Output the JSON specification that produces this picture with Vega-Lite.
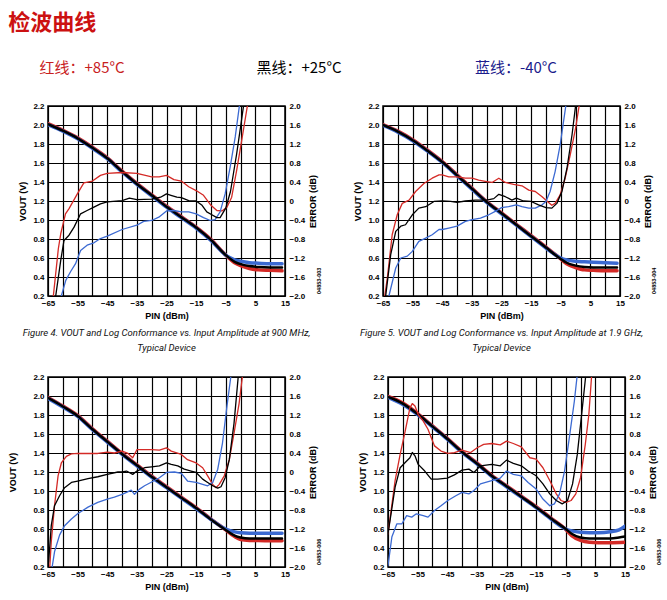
{
  "$schema": "https://vega.github.io/schema/vega-lite/v6.json",
  "background": "white",
  "padding": {"left": 8, "top": 12, "right": 2, "bottom": 2},
  "title": {"text": "检波曲线", "anchor": "start", "font": "Noto Sans CJK SC", "fontSize": 22, "fontWeight": "bold", "color": "#cc1111", "offset": 18},
  "config": {
    "view": {"stroke": "#000", "strokeWidth": 1.5},
    "axis": {"labelFont": "Liberation Sans", "labelFontWeight": "bold", "labelFontSize": 8, "labelColor": "#000", "titleFont": "Liberation Sans", "titleFontWeight": "bold", "titleFontSize": 9, "titleColor": "#000", "ticks": false, "tickSize": 0, "domain": false, "gridColor": "#000", "gridWidth": 1.2, "gridOpacity": 1, "labelPadding": 4, "tickCount": 50},
    "line": {"strokeJoin": "round", "strokeCap": "round"}
  },
  "datasets": {
    "legend": [{"label": "红线：+85°C"}, {"label": "黑线：+25°C"}, {"label": "蓝线：-40°C"}],
    "codes": [{"p": 1, "code": "04853-003"}, {"p": 2, "code": "04853-004"}, {"p": 3, "code": "04853-006"}, {"p": 4, "code": "04853-006"}],
    "curves": [
      {"p":1,"t":"+85°C","k":"V","x":-65,"y":2.015},{"p":1,"t":"+85°C","k":"V","x":-60,"y":1.945},{"p":1,"t":"+85°C","k":"V","x":-55,"y":1.865},{"p":1,"t":"+85°C","k":"V","x":-50,"y":1.765},{"p":1,"t":"+85°C","k":"V","x":-45,"y":1.655},{"p":1,"t":"+85°C","k":"V","x":-40,"y":1.515},{"p":1,"t":"+85°C","k":"V","x":-35,"y":1.385},{"p":1,"t":"+85°C","k":"V","x":-30,"y":1.265},{"p":1,"t":"+85°C","k":"V","x":-25,"y":1.145},{"p":1,"t":"+85°C","k":"V","x":-20,"y":1.035},{"p":1,"t":"+85°C","k":"V","x":-15,"y":0.925},{"p":1,"t":"+85°C","k":"V","x":-10,"y":0.795},{"p":1,"t":"+85°C","k":"V","x":-5,"y":0.63},{"p":1,"t":"+85°C","k":"V","x":-2,"y":0.55},{"p":1,"t":"+85°C","k":"V","x":0,"y":0.52},{"p":1,"t":"+85°C","k":"V","x":3,"y":0.49},{"p":1,"t":"+85°C","k":"V","x":6,"y":0.475},{"p":1,"t":"+85°C","k":"V","x":10,"y":0.47},{"p":1,"t":"+85°C","k":"V","x":14,"y":0.465},
      {"p":1,"t":"-40°C","k":"V","x":-65,"y":2.005},{"p":1,"t":"-40°C","k":"V","x":-60,"y":1.935},{"p":1,"t":"-40°C","k":"V","x":-55,"y":1.855},{"p":1,"t":"-40°C","k":"V","x":-50,"y":1.755},{"p":1,"t":"-40°C","k":"V","x":-45,"y":1.645},{"p":1,"t":"-40°C","k":"V","x":-40,"y":1.505},{"p":1,"t":"-40°C","k":"V","x":-35,"y":1.375},{"p":1,"t":"-40°C","k":"V","x":-30,"y":1.255},{"p":1,"t":"-40°C","k":"V","x":-25,"y":1.135},{"p":1,"t":"-40°C","k":"V","x":-20,"y":1.025},{"p":1,"t":"-40°C","k":"V","x":-15,"y":0.915},{"p":1,"t":"-40°C","k":"V","x":-10,"y":0.785},{"p":1,"t":"-40°C","k":"V","x":-5,"y":0.63},{"p":1,"t":"-40°C","k":"V","x":-2,"y":0.58},{"p":1,"t":"-40°C","k":"V","x":0,"y":0.565},{"p":1,"t":"-40°C","k":"V","x":3,"y":0.55},{"p":1,"t":"-40°C","k":"V","x":6,"y":0.545},{"p":1,"t":"-40°C","k":"V","x":10,"y":0.54},{"p":1,"t":"-40°C","k":"V","x":14,"y":0.54},
      {"p":1,"t":"+25°C","k":"V","x":-65,"y":2.01},{"p":1,"t":"+25°C","k":"V","x":-60,"y":1.94},{"p":1,"t":"+25°C","k":"V","x":-55,"y":1.86},{"p":1,"t":"+25°C","k":"V","x":-50,"y":1.76},{"p":1,"t":"+25°C","k":"V","x":-45,"y":1.65},{"p":1,"t":"+25°C","k":"V","x":-40,"y":1.51},{"p":1,"t":"+25°C","k":"V","x":-35,"y":1.38},{"p":1,"t":"+25°C","k":"V","x":-30,"y":1.26},{"p":1,"t":"+25°C","k":"V","x":-25,"y":1.14},{"p":1,"t":"+25°C","k":"V","x":-20,"y":1.03},{"p":1,"t":"+25°C","k":"V","x":-15,"y":0.92},{"p":1,"t":"+25°C","k":"V","x":-10,"y":0.79},{"p":1,"t":"+25°C","k":"V","x":-5,"y":0.63},{"p":1,"t":"+25°C","k":"V","x":-2,"y":0.56},{"p":1,"t":"+25°C","k":"V","x":0,"y":0.535},{"p":1,"t":"+25°C","k":"V","x":3,"y":0.515},{"p":1,"t":"+25°C","k":"V","x":6,"y":0.505},{"p":1,"t":"+25°C","k":"V","x":10,"y":0.5},{"p":1,"t":"+25°C","k":"V","x":14,"y":0.5},
      {"p":1,"t":"+85°C","k":"E","x":-63.2,"y":-2.0},{"p":1,"t":"+85°C","k":"E","x":-61.5,"y":-1.0},{"p":1,"t":"+85°C","k":"E","x":-60.7,"y":-0.69},{"p":1,"t":"+85°C","k":"E","x":-59.1,"y":-0.27},{"p":1,"t":"+85°C","k":"E","x":-57.9,"y":-0.16},{"p":1,"t":"+85°C","k":"E","x":-55.1,"y":0.15},{"p":1,"t":"+85°C","k":"E","x":-52.9,"y":0.38},{"p":1,"t":"+85°C","k":"E","x":-50,"y":0.42},{"p":1,"t":"+85°C","k":"E","x":-47.3,"y":0.54},{"p":1,"t":"+85°C","k":"E","x":-45,"y":0.58},{"p":1,"t":"+85°C","k":"E","x":-40,"y":0.6},{"p":1,"t":"+85°C","k":"E","x":-35,"y":0.58},{"p":1,"t":"+85°C","k":"E","x":-30,"y":0.51},{"p":1,"t":"+85°C","k":"E","x":-27.5,"y":0.51},{"p":1,"t":"+85°C","k":"E","x":-25,"y":0.54},{"p":1,"t":"+85°C","k":"E","x":-22.5,"y":0.45},{"p":1,"t":"+85°C","k":"E","x":-20,"y":0.42},{"p":1,"t":"+85°C","k":"E","x":-17.5,"y":0.3},{"p":1,"t":"+85°C","k":"E","x":-15,"y":0.22},{"p":1,"t":"+85°C","k":"E","x":-12.5,"y":0.12},{"p":1,"t":"+85°C","k":"E","x":-10,"y":-0.09},{"p":1,"t":"+85°C","k":"E","x":-8,"y":-0.2},{"p":1,"t":"+85°C","k":"E","x":-6.3,"y":-0.21},{"p":1,"t":"+85°C","k":"E","x":-4.6,"y":-0.13},{"p":1,"t":"+85°C","k":"E","x":-3,"y":0.08},{"p":1,"t":"+85°C","k":"E","x":-1.3,"y":0.65},{"p":1,"t":"+85°C","k":"E","x":0.4,"y":1.28},{"p":1,"t":"+85°C","k":"E","x":2.3,"y":2.0},
      {"p":1,"t":"-40°C","k":"E","x":-60.5,"y":-2.0},{"p":1,"t":"-40°C","k":"E","x":-59,"y":-1.67},{"p":1,"t":"-40°C","k":"E","x":-57.4,"y":-1.49},{"p":1,"t":"-40°C","k":"E","x":-55.7,"y":-1.32},{"p":1,"t":"-40°C","k":"E","x":-54,"y":-1.04},{"p":1,"t":"-40°C","k":"E","x":-51.8,"y":-0.93},{"p":1,"t":"-40°C","k":"E","x":-49.5,"y":-0.88},{"p":1,"t":"-40°C","k":"E","x":-47.3,"y":-0.79},{"p":1,"t":"-40°C","k":"E","x":-45,"y":-0.74},{"p":1,"t":"-40°C","k":"E","x":-40,"y":-0.6},{"p":1,"t":"-40°C","k":"E","x":-35,"y":-0.51},{"p":1,"t":"-40°C","k":"E","x":-32.7,"y":-0.43},{"p":1,"t":"-40°C","k":"E","x":-30,"y":-0.41},{"p":1,"t":"-40°C","k":"E","x":-27.6,"y":-0.34},{"p":1,"t":"-40°C","k":"E","x":-25,"y":-0.21},{"p":1,"t":"-40°C","k":"E","x":-22.5,"y":-0.2},{"p":1,"t":"-40°C","k":"E","x":-20,"y":-0.23},{"p":1,"t":"-40°C","k":"E","x":-17.5,"y":-0.23},{"p":1,"t":"-40°C","k":"E","x":-15,"y":-0.27},{"p":1,"t":"-40°C","k":"E","x":-12.5,"y":-0.35},{"p":1,"t":"-40°C","k":"E","x":-10.2,"y":-0.41},{"p":1,"t":"-40°C","k":"E","x":-8.6,"y":-0.39},{"p":1,"t":"-40°C","k":"E","x":-6.9,"y":-0.23},{"p":1,"t":"-40°C","k":"E","x":-5.2,"y":0.15},{"p":1,"t":"-40°C","k":"E","x":-3.5,"y":0.72},{"p":1,"t":"-40°C","k":"E","x":-1.8,"y":1.35},{"p":1,"t":"-40°C","k":"E","x":-0.4,"y":2.0},
      {"p":1,"t":"+25°C","k":"E","x":-62.4,"y":-2.0},{"p":1,"t":"+25°C","k":"E","x":-60.7,"y":-1.25},{"p":1,"t":"+25°C","k":"E","x":-59.6,"y":-0.83},{"p":1,"t":"+25°C","k":"E","x":-57.9,"y":-0.72},{"p":1,"t":"+25°C","k":"E","x":-56.2,"y":-0.55},{"p":1,"t":"+25°C","k":"E","x":-54,"y":-0.27},{"p":1,"t":"+25°C","k":"E","x":-51.8,"y":-0.2},{"p":1,"t":"+25°C","k":"E","x":-49.5,"y":-0.13},{"p":1,"t":"+25°C","k":"E","x":-47.3,"y":-0.06},{"p":1,"t":"+25°C","k":"E","x":-45,"y":-0.02},{"p":1,"t":"+25°C","k":"E","x":-40,"y":0.01},{"p":1,"t":"+25°C","k":"E","x":-37.5,"y":0.06},{"p":1,"t":"+25°C","k":"E","x":-35,"y":0.03},{"p":1,"t":"+25°C","k":"E","x":-30,"y":0.04},{"p":1,"t":"+25°C","k":"E","x":-27,"y":0.08},{"p":1,"t":"+25°C","k":"E","x":-25,"y":0.15},{"p":1,"t":"+25°C","k":"E","x":-23.5,"y":0.12},{"p":1,"t":"+25°C","k":"E","x":-21.5,"y":0.08},{"p":1,"t":"+25°C","k":"E","x":-20,"y":0.07},{"p":1,"t":"+25°C","k":"E","x":-17.5,"y":0.01},{"p":1,"t":"+25°C","k":"E","x":-15,"y":0},{"p":1,"t":"+25°C","k":"E","x":-13,"y":-0.09},{"p":1,"t":"+25°C","k":"E","x":-11.4,"y":-0.23},{"p":1,"t":"+25°C","k":"E","x":-10,"y":-0.28},{"p":1,"t":"+25°C","k":"E","x":-8,"y":-0.35},{"p":1,"t":"+25°C","k":"E","x":-6.9,"y":-0.35},{"p":1,"t":"+25°C","k":"E","x":-5,"y":-0.15},{"p":1,"t":"+25°C","k":"E","x":-3.4,"y":0.2},{"p":1,"t":"+25°C","k":"E","x":-1.3,"y":1.0},{"p":1,"t":"+25°C","k":"E","x":0,"y":1.56},{"p":1,"t":"+25°C","k":"E","x":1.0,"y":2.0},

      {"p":2,"t":"+85°C","k":"V","x":-65,"y":2.005},{"p":2,"t":"+85°C","k":"V","x":-60,"y":1.935},{"p":2,"t":"+85°C","k":"V","x":-55,"y":1.845},{"p":2,"t":"+85°C","k":"V","x":-50,"y":1.735},{"p":2,"t":"+85°C","k":"V","x":-45,"y":1.615},{"p":2,"t":"+85°C","k":"V","x":-40,"y":1.475},{"p":2,"t":"+85°C","k":"V","x":-35,"y":1.335},{"p":2,"t":"+85°C","k":"V","x":-30,"y":1.195},{"p":2,"t":"+85°C","k":"V","x":-25,"y":1.075},{"p":2,"t":"+85°C","k":"V","x":-20,"y":0.955},{"p":2,"t":"+85°C","k":"V","x":-15,"y":0.835},{"p":2,"t":"+85°C","k":"V","x":-10,"y":0.715},{"p":2,"t":"+85°C","k":"V","x":-5,"y":0.59},{"p":2,"t":"+85°C","k":"V","x":-3,"y":0.54},{"p":2,"t":"+85°C","k":"V","x":0,"y":0.5},{"p":2,"t":"+85°C","k":"V","x":3,"y":0.475},{"p":2,"t":"+85°C","k":"V","x":6,"y":0.47},{"p":2,"t":"+85°C","k":"V","x":10,"y":0.465},{"p":2,"t":"+85°C","k":"V","x":14,"y":0.465},
      {"p":2,"t":"-40°C","k":"V","x":-65,"y":1.995},{"p":2,"t":"-40°C","k":"V","x":-60,"y":1.925},{"p":2,"t":"-40°C","k":"V","x":-55,"y":1.835},{"p":2,"t":"-40°C","k":"V","x":-50,"y":1.725},{"p":2,"t":"-40°C","k":"V","x":-45,"y":1.605},{"p":2,"t":"-40°C","k":"V","x":-40,"y":1.465},{"p":2,"t":"-40°C","k":"V","x":-35,"y":1.325},{"p":2,"t":"-40°C","k":"V","x":-30,"y":1.185},{"p":2,"t":"-40°C","k":"V","x":-25,"y":1.065},{"p":2,"t":"-40°C","k":"V","x":-20,"y":0.945},{"p":2,"t":"-40°C","k":"V","x":-15,"y":0.825},{"p":2,"t":"-40°C","k":"V","x":-10,"y":0.705},{"p":2,"t":"-40°C","k":"V","x":-5,"y":0.6},{"p":2,"t":"-40°C","k":"V","x":-3,"y":0.58},{"p":2,"t":"-40°C","k":"V","x":0,"y":0.565},{"p":2,"t":"-40°C","k":"V","x":3,"y":0.56},{"p":2,"t":"-40°C","k":"V","x":6,"y":0.555},{"p":2,"t":"-40°C","k":"V","x":10,"y":0.55},{"p":2,"t":"-40°C","k":"V","x":14,"y":0.545},
      {"p":2,"t":"+25°C","k":"V","x":-65,"y":2.0},{"p":2,"t":"+25°C","k":"V","x":-60,"y":1.93},{"p":2,"t":"+25°C","k":"V","x":-55,"y":1.84},{"p":2,"t":"+25°C","k":"V","x":-50,"y":1.73},{"p":2,"t":"+25°C","k":"V","x":-45,"y":1.61},{"p":2,"t":"+25°C","k":"V","x":-40,"y":1.47},{"p":2,"t":"+25°C","k":"V","x":-35,"y":1.33},{"p":2,"t":"+25°C","k":"V","x":-30,"y":1.19},{"p":2,"t":"+25°C","k":"V","x":-25,"y":1.07},{"p":2,"t":"+25°C","k":"V","x":-20,"y":0.95},{"p":2,"t":"+25°C","k":"V","x":-15,"y":0.83},{"p":2,"t":"+25°C","k":"V","x":-10,"y":0.71},{"p":2,"t":"+25°C","k":"V","x":-5,"y":0.59},{"p":2,"t":"+25°C","k":"V","x":-3,"y":0.55},{"p":2,"t":"+25°C","k":"V","x":0,"y":0.52},{"p":2,"t":"+25°C","k":"V","x":3,"y":0.505},{"p":2,"t":"+25°C","k":"V","x":6,"y":0.5},{"p":2,"t":"+25°C","k":"V","x":10,"y":0.5},{"p":2,"t":"+25°C","k":"V","x":14,"y":0.5},
      {"p":2,"t":"+85°C","k":"E","x":-64.4,"y":-2.0},{"p":2,"t":"+85°C","k":"E","x":-63.5,"y":-1.6},{"p":2,"t":"+85°C","k":"E","x":-61.9,"y":-0.71},{"p":2,"t":"+85°C","k":"E","x":-60.2,"y":-0.29},{"p":2,"t":"+85°C","k":"E","x":-58.5,"y":-0.05},{"p":2,"t":"+85°C","k":"E","x":-56.2,"y":0.02},{"p":2,"t":"+85°C","k":"E","x":-54,"y":0.2},{"p":2,"t":"+85°C","k":"E","x":-51.2,"y":0.37},{"p":2,"t":"+85°C","k":"E","x":-48.4,"y":0.48},{"p":2,"t":"+85°C","k":"E","x":-46.1,"y":0.55},{"p":2,"t":"+85°C","k":"E","x":-45,"y":0.55},{"p":2,"t":"+85°C","k":"E","x":-42.8,"y":0.51},{"p":2,"t":"+85°C","k":"E","x":-40,"y":0.51},{"p":2,"t":"+85°C","k":"E","x":-37.2,"y":0.48},{"p":2,"t":"+85°C","k":"E","x":-34.9,"y":0.48},{"p":2,"t":"+85°C","k":"E","x":-32.7,"y":0.44},{"p":2,"t":"+85°C","k":"E","x":-30,"y":0.41},{"p":2,"t":"+85°C","k":"E","x":-28.2,"y":0.39},{"p":2,"t":"+85°C","k":"E","x":-25.9,"y":0.48},{"p":2,"t":"+85°C","k":"E","x":-23.7,"y":0.39},{"p":2,"t":"+85°C","k":"E","x":-20.9,"y":0.35},{"p":2,"t":"+85°C","k":"E","x":-18.1,"y":0.32},{"p":2,"t":"+85°C","k":"E","x":-15.8,"y":0.23},{"p":2,"t":"+85°C","k":"E","x":-13.6,"y":0.2},{"p":2,"t":"+85°C","k":"E","x":-11.3,"y":0.09},{"p":2,"t":"+85°C","k":"E","x":-9.1,"y":-0.03},{"p":2,"t":"+85°C","k":"E","x":-8,"y":-0.09},{"p":2,"t":"+85°C","k":"E","x":-6.9,"y":-0.05},{"p":2,"t":"+85°C","k":"E","x":-5.2,"y":0.13},{"p":2,"t":"+85°C","k":"E","x":-3.5,"y":0.48},{"p":2,"t":"+85°C","k":"E","x":-1.8,"y":0.97},{"p":2,"t":"+85°C","k":"E","x":0,"y":1.53},{"p":2,"t":"+85°C","k":"E","x":1.2,"y":2.0},
      {"p":2,"t":"-40°C","k":"E","x":-63,"y":-2.0},{"p":2,"t":"-40°C","k":"E","x":-60.7,"y":-1.41},{"p":2,"t":"-40°C","k":"E","x":-59,"y":-1.2},{"p":2,"t":"-40°C","k":"E","x":-56.8,"y":-1.16},{"p":2,"t":"-40°C","k":"E","x":-55.1,"y":-1.06},{"p":2,"t":"-40°C","k":"E","x":-52.9,"y":-0.85},{"p":2,"t":"-40°C","k":"E","x":-50.6,"y":-0.78},{"p":2,"t":"-40°C","k":"E","x":-48.4,"y":-0.71},{"p":2,"t":"-40°C","k":"E","x":-46.1,"y":-0.6},{"p":2,"t":"-40°C","k":"E","x":-45,"y":-0.6},{"p":2,"t":"-40°C","k":"E","x":-42.8,"y":-0.57},{"p":2,"t":"-40°C","k":"E","x":-40,"y":-0.53},{"p":2,"t":"-40°C","k":"E","x":-37.2,"y":-0.43},{"p":2,"t":"-40°C","k":"E","x":-34.9,"y":-0.39},{"p":2,"t":"-40°C","k":"E","x":-32.1,"y":-0.36},{"p":2,"t":"-40°C","k":"E","x":-29.3,"y":-0.29},{"p":2,"t":"-40°C","k":"E","x":-27.1,"y":-0.22},{"p":2,"t":"-40°C","k":"E","x":-25,"y":-0.14},{"p":2,"t":"-40°C","k":"E","x":-22.6,"y":-0.12},{"p":2,"t":"-40°C","k":"E","x":-20,"y":-0.08},{"p":2,"t":"-40°C","k":"E","x":-18.1,"y":-0.12},{"p":2,"t":"-40°C","k":"E","x":-15.8,"y":-0.15},{"p":2,"t":"-40°C","k":"E","x":-13.6,"y":-0.15},{"p":2,"t":"-40°C","k":"E","x":-11.3,"y":-0.08},{"p":2,"t":"-40°C","k":"E","x":-10,"y":-0.01},{"p":2,"t":"-40°C","k":"E","x":-8.6,"y":0.2},{"p":2,"t":"-40°C","k":"E","x":-6.9,"y":0.62},{"p":2,"t":"-40°C","k":"E","x":-5.2,"y":1.18},{"p":2,"t":"-40°C","k":"E","x":-3.3,"y":2.0},
      {"p":2,"t":"+25°C","k":"E","x":-64.1,"y":-2.0},{"p":2,"t":"+25°C","k":"E","x":-62.4,"y":-1.13},{"p":2,"t":"+25°C","k":"E","x":-60.7,"y":-0.64},{"p":2,"t":"+25°C","k":"E","x":-59,"y":-0.53},{"p":2,"t":"+25°C","k":"E","x":-57.4,"y":-0.5},{"p":2,"t":"+25°C","k":"E","x":-55.1,"y":-0.29},{"p":2,"t":"+25°C","k":"E","x":-52.9,"y":-0.15},{"p":2,"t":"+25°C","k":"E","x":-50.6,"y":-0.12},{"p":2,"t":"+25°C","k":"E","x":-47.8,"y":-0.01},{"p":2,"t":"+25°C","k":"E","x":-45,"y":0},{"p":2,"t":"+25°C","k":"E","x":-42.2,"y":-0.01},{"p":2,"t":"+25°C","k":"E","x":-40,"y":-0.03},{"p":2,"t":"+25°C","k":"E","x":-37.2,"y":0},{"p":2,"t":"+25°C","k":"E","x":-33.8,"y":0.02},{"p":2,"t":"+25°C","k":"E","x":-30,"y":0.02},{"p":2,"t":"+25°C","k":"E","x":-27.6,"y":0.05},{"p":2,"t":"+25°C","k":"E","x":-25.9,"y":0.14},{"p":2,"t":"+25°C","k":"E","x":-23.7,"y":0.09},{"p":2,"t":"+25°C","k":"E","x":-21.5,"y":0.02},{"p":2,"t":"+25°C","k":"E","x":-20,"y":0.06},{"p":2,"t":"+25°C","k":"E","x":-17.6,"y":0},{"p":2,"t":"+25°C","k":"E","x":-15,"y":-0.01},{"p":2,"t":"+25°C","k":"E","x":-12.5,"y":-0.08},{"p":2,"t":"+25°C","k":"E","x":-10,"y":-0.14},{"p":2,"t":"+25°C","k":"E","x":-8,"y":-0.15},{"p":2,"t":"+25°C","k":"E","x":-6.3,"y":-0.05},{"p":2,"t":"+25°C","k":"E","x":-4.6,"y":0.2},{"p":2,"t":"+25°C","k":"E","x":-2.9,"y":0.69},{"p":2,"t":"+25°C","k":"E","x":-1.2,"y":1.39},{"p":2,"t":"+25°C","k":"E","x":0,"y":2.0},

      {"p":3,"t":"+85°C","k":"V","x":-65,"y":1.985},{"p":3,"t":"+85°C","k":"V","x":-60,"y":1.895},{"p":3,"t":"+85°C","k":"V","x":-55,"y":1.795},{"p":3,"t":"+85°C","k":"V","x":-50,"y":1.655},{"p":3,"t":"+85°C","k":"V","x":-45,"y":1.525},{"p":3,"t":"+85°C","k":"V","x":-40,"y":1.395},{"p":3,"t":"+85°C","k":"V","x":-35,"y":1.275},{"p":3,"t":"+85°C","k":"V","x":-30,"y":1.155},{"p":3,"t":"+85°C","k":"V","x":-25,"y":1.045},{"p":3,"t":"+85°C","k":"V","x":-20,"y":0.935},{"p":3,"t":"+85°C","k":"V","x":-15,"y":0.825},{"p":3,"t":"+85°C","k":"V","x":-10,"y":0.705},{"p":3,"t":"+85°C","k":"V","x":-5,"y":0.59},{"p":3,"t":"+85°C","k":"V","x":-2,"y":0.52},{"p":3,"t":"+85°C","k":"V","x":0,"y":0.49},{"p":3,"t":"+85°C","k":"V","x":3,"y":0.48},{"p":3,"t":"+85°C","k":"V","x":6,"y":0.478},{"p":3,"t":"+85°C","k":"V","x":10,"y":0.477},{"p":3,"t":"+85°C","k":"V","x":14,"y":0.477},
      {"p":3,"t":"-40°C","k":"V","x":-65,"y":1.975},{"p":3,"t":"-40°C","k":"V","x":-60,"y":1.885},{"p":3,"t":"-40°C","k":"V","x":-55,"y":1.785},{"p":3,"t":"-40°C","k":"V","x":-50,"y":1.645},{"p":3,"t":"-40°C","k":"V","x":-45,"y":1.515},{"p":3,"t":"-40°C","k":"V","x":-40,"y":1.385},{"p":3,"t":"-40°C","k":"V","x":-35,"y":1.265},{"p":3,"t":"-40°C","k":"V","x":-30,"y":1.145},{"p":3,"t":"-40°C","k":"V","x":-25,"y":1.035},{"p":3,"t":"-40°C","k":"V","x":-20,"y":0.925},{"p":3,"t":"-40°C","k":"V","x":-15,"y":0.815},{"p":3,"t":"-40°C","k":"V","x":-10,"y":0.7},{"p":3,"t":"-40°C","k":"V","x":-5,"y":0.6},{"p":3,"t":"-40°C","k":"V","x":-2,"y":0.57},{"p":3,"t":"-40°C","k":"V","x":0,"y":0.56},{"p":3,"t":"-40°C","k":"V","x":3,"y":0.555},{"p":3,"t":"-40°C","k":"V","x":6,"y":0.555},{"p":3,"t":"-40°C","k":"V","x":10,"y":0.555},{"p":3,"t":"-40°C","k":"V","x":14,"y":0.555},
      {"p":3,"t":"+25°C","k":"V","x":-65,"y":1.98},{"p":3,"t":"+25°C","k":"V","x":-60,"y":1.89},{"p":3,"t":"+25°C","k":"V","x":-55,"y":1.79},{"p":3,"t":"+25°C","k":"V","x":-50,"y":1.65},{"p":3,"t":"+25°C","k":"V","x":-45,"y":1.52},{"p":3,"t":"+25°C","k":"V","x":-40,"y":1.39},{"p":3,"t":"+25°C","k":"V","x":-35,"y":1.27},{"p":3,"t":"+25°C","k":"V","x":-30,"y":1.15},{"p":3,"t":"+25°C","k":"V","x":-25,"y":1.04},{"p":3,"t":"+25°C","k":"V","x":-20,"y":0.93},{"p":3,"t":"+25°C","k":"V","x":-15,"y":0.82},{"p":3,"t":"+25°C","k":"V","x":-10,"y":0.7},{"p":3,"t":"+25°C","k":"V","x":-5,"y":0.59},{"p":3,"t":"+25°C","k":"V","x":-2,"y":0.53},{"p":3,"t":"+25°C","k":"V","x":0,"y":0.51},{"p":3,"t":"+25°C","k":"V","x":3,"y":0.5},{"p":3,"t":"+25°C","k":"V","x":6,"y":0.5},{"p":3,"t":"+25°C","k":"V","x":10,"y":0.5},{"p":3,"t":"+25°C","k":"V","x":14,"y":0.5},
      {"p":3,"t":"+85°C","k":"E","x":-64.4,"y":-2.0},{"p":3,"t":"+85°C","k":"E","x":-63.9,"y":-1.47},{"p":3,"t":"+85°C","k":"E","x":-62.8,"y":-0.71},{"p":3,"t":"+85°C","k":"E","x":-61.6,"y":-0.08},{"p":3,"t":"+85°C","k":"E","x":-60.5,"y":0.19},{"p":3,"t":"+85°C","k":"E","x":-58.8,"y":0.33},{"p":3,"t":"+85°C","k":"E","x":-57.1,"y":0.38},{"p":3,"t":"+85°C","k":"E","x":-55,"y":0.39},{"p":3,"t":"+85°C","k":"E","x":-51.5,"y":0.39},{"p":3,"t":"+85°C","k":"E","x":-48.2,"y":0.39},{"p":3,"t":"+85°C","k":"E","x":-45,"y":0.42},{"p":3,"t":"+85°C","k":"E","x":-42.6,"y":0.4},{"p":3,"t":"+85°C","k":"E","x":-40,"y":0.44},{"p":3,"t":"+85°C","k":"E","x":-38,"y":0.39},{"p":3,"t":"+85°C","k":"E","x":-36.4,"y":0.3},{"p":3,"t":"+85°C","k":"E","x":-35,"y":0.47},{"p":3,"t":"+85°C","k":"E","x":-32.4,"y":0.47},{"p":3,"t":"+85°C","k":"E","x":-30,"y":0.47},{"p":3,"t":"+85°C","k":"E","x":-27.4,"y":0.46},{"p":3,"t":"+85°C","k":"E","x":-25,"y":0.51},{"p":3,"t":"+85°C","k":"E","x":-23.4,"y":0.44},{"p":3,"t":"+85°C","k":"E","x":-20,"y":0.37},{"p":3,"t":"+85°C","k":"E","x":-17.9,"y":0.26},{"p":3,"t":"+85°C","k":"E","x":-15,"y":0.19},{"p":3,"t":"+85°C","k":"E","x":-12.8,"y":0.09},{"p":3,"t":"+85°C","k":"E","x":-11.1,"y":-0.08},{"p":3,"t":"+85°C","k":"E","x":-9.4,"y":-0.26},{"p":3,"t":"+85°C","k":"E","x":-8.3,"y":-0.33},{"p":3,"t":"+85°C","k":"E","x":-7.2,"y":-0.26},{"p":3,"t":"+85°C","k":"E","x":-5.5,"y":-0.08},{"p":3,"t":"+85°C","k":"E","x":-3.8,"y":0.26},{"p":3,"t":"+85°C","k":"E","x":-2.2,"y":0.82},{"p":3,"t":"+85°C","k":"E","x":-0.5,"y":1.44},{"p":3,"t":"+85°C","k":"E","x":0.6,"y":2.0},
      {"p":3,"t":"-40°C","k":"E","x":-63.6,"y":-2.0},{"p":3,"t":"-40°C","k":"E","x":-62.8,"y":-1.68},{"p":3,"t":"-40°C","k":"E","x":-61.1,"y":-1.33},{"p":3,"t":"-40°C","k":"E","x":-59.4,"y":-1.13},{"p":3,"t":"-40°C","k":"E","x":-57.1,"y":-0.99},{"p":3,"t":"-40°C","k":"E","x":-55,"y":-0.88},{"p":3,"t":"-40°C","k":"E","x":-51.5,"y":-0.74},{"p":3,"t":"-40°C","k":"E","x":-48.2,"y":-0.64},{"p":3,"t":"-40°C","k":"E","x":-45,"y":-0.57},{"p":3,"t":"-40°C","k":"E","x":-42.6,"y":-0.53},{"p":3,"t":"-40°C","k":"E","x":-40,"y":-0.47},{"p":3,"t":"-40°C","k":"E","x":-38.5,"y":-0.43},{"p":3,"t":"-40°C","k":"E","x":-36.9,"y":-0.38},{"p":3,"t":"-40°C","k":"E","x":-35.8,"y":-0.47},{"p":3,"t":"-40°C","k":"E","x":-34.1,"y":-0.36},{"p":3,"t":"-40°C","k":"E","x":-32.4,"y":-0.29},{"p":3,"t":"-40°C","k":"E","x":-30,"y":-0.21},{"p":3,"t":"-40°C","k":"E","x":-27.4,"y":-0.12},{"p":3,"t":"-40°C","k":"E","x":-25,"y":-0.01},{"p":3,"t":"-40°C","k":"E","x":-22.3,"y":0},{"p":3,"t":"-40°C","k":"E","x":-20,"y":-0.03},{"p":3,"t":"-40°C","k":"E","x":-17.9,"y":-0.19},{"p":3,"t":"-40°C","k":"E","x":-15,"y":-0.22},{"p":3,"t":"-40°C","k":"E","x":-12.8,"y":-0.26},{"p":3,"t":"-40°C","k":"E","x":-11.1,"y":-0.29},{"p":3,"t":"-40°C","k":"E","x":-9.4,"y":-0.22},{"p":3,"t":"-40°C","k":"E","x":-7.7,"y":0.06},{"p":3,"t":"-40°C","k":"E","x":-6.1,"y":0.61},{"p":3,"t":"-40°C","k":"E","x":-4.6,"y":1.38},{"p":3,"t":"-40°C","k":"E","x":-3.3,"y":2.0},
      {"p":3,"t":"+25°C","k":"E","x":-64.8,"y":-1.9},{"p":3,"t":"+25°C","k":"E","x":-63.9,"y":-1.13},{"p":3,"t":"+25°C","k":"E","x":-62.8,"y":-0.71},{"p":3,"t":"+25°C","k":"E","x":-61.1,"y":-0.5},{"p":3,"t":"+25°C","k":"E","x":-59.4,"y":-0.33},{"p":3,"t":"+25°C","k":"E","x":-57.1,"y":-0.22},{"p":3,"t":"+25°C","k":"E","x":-55,"y":-0.19},{"p":3,"t":"+25°C","k":"E","x":-51.5,"y":-0.14},{"p":3,"t":"+25°C","k":"E","x":-48.2,"y":-0.1},{"p":3,"t":"+25°C","k":"E","x":-45,"y":-0.05},{"p":3,"t":"+25°C","k":"E","x":-41.4,"y":0},{"p":3,"t":"+25°C","k":"E","x":-40,"y":0},{"p":3,"t":"+25°C","k":"E","x":-38.5,"y":0.02},{"p":3,"t":"+25°C","k":"E","x":-36.4,"y":-0.05},{"p":3,"t":"+25°C","k":"E","x":-35,"y":0.02},{"p":3,"t":"+25°C","k":"E","x":-32.4,"y":0.09},{"p":3,"t":"+25°C","k":"E","x":-30,"y":0.11},{"p":3,"t":"+25°C","k":"E","x":-27.4,"y":0.13},{"p":3,"t":"+25°C","k":"E","x":-25,"y":0.19},{"p":3,"t":"+25°C","k":"E","x":-23.4,"y":0.16},{"p":3,"t":"+25°C","k":"E","x":-21.2,"y":0.13},{"p":3,"t":"+25°C","k":"E","x":-19,"y":0.06},{"p":3,"t":"+25°C","k":"E","x":-16.7,"y":0.02},{"p":3,"t":"+25°C","k":"E","x":-15,"y":-0.01},{"p":3,"t":"+25°C","k":"E","x":-12.8,"y":-0.15},{"p":3,"t":"+25°C","k":"E","x":-11.1,"y":-0.22},{"p":3,"t":"+25°C","k":"E","x":-9.4,"y":-0.29},{"p":3,"t":"+25°C","k":"E","x":-7.7,"y":-0.34},{"p":3,"t":"+25°C","k":"E","x":-6.6,"y":-0.31},{"p":3,"t":"+25°C","k":"E","x":-5.2,"y":-0.12},{"p":3,"t":"+25°C","k":"E","x":-3.8,"y":0.26},{"p":3,"t":"+25°C","k":"E","x":-2.2,"y":1.03},{"p":3,"t":"+25°C","k":"E","x":-0.8,"y":2.0},

      {"p":4,"t":"+85°C","k":"V","x":-65,"y":1.995},{"p":4,"t":"+85°C","k":"V","x":-60,"y":1.925},{"p":4,"t":"+85°C","k":"V","x":-55,"y":1.815},{"p":4,"t":"+85°C","k":"V","x":-50,"y":1.685},{"p":4,"t":"+85°C","k":"V","x":-45,"y":1.555},{"p":4,"t":"+85°C","k":"V","x":-40,"y":1.415},{"p":4,"t":"+85°C","k":"V","x":-35,"y":1.295},{"p":4,"t":"+85°C","k":"V","x":-30,"y":1.165},{"p":4,"t":"+85°C","k":"V","x":-25,"y":1.055},{"p":4,"t":"+85°C","k":"V","x":-20,"y":0.945},{"p":4,"t":"+85°C","k":"V","x":-15,"y":0.835},{"p":4,"t":"+85°C","k":"V","x":-10,"y":0.715},{"p":4,"t":"+85°C","k":"V","x":-5,"y":0.595},{"p":4,"t":"+85°C","k":"V","x":-3,"y":0.53},{"p":4,"t":"+85°C","k":"V","x":0,"y":0.48},{"p":4,"t":"+85°C","k":"V","x":3,"y":0.46},{"p":4,"t":"+85°C","k":"V","x":6,"y":0.455},{"p":4,"t":"+85°C","k":"V","x":10,"y":0.455},{"p":4,"t":"+85°C","k":"V","x":15,"y":0.46},
      {"p":4,"t":"-40°C","k":"V","x":-65,"y":1.985},{"p":4,"t":"-40°C","k":"V","x":-60,"y":1.91},{"p":4,"t":"-40°C","k":"V","x":-55,"y":1.805},{"p":4,"t":"-40°C","k":"V","x":-50,"y":1.675},{"p":4,"t":"-40°C","k":"V","x":-45,"y":1.545},{"p":4,"t":"-40°C","k":"V","x":-40,"y":1.405},{"p":4,"t":"-40°C","k":"V","x":-35,"y":1.285},{"p":4,"t":"-40°C","k":"V","x":-30,"y":1.155},{"p":4,"t":"-40°C","k":"V","x":-25,"y":1.045},{"p":4,"t":"-40°C","k":"V","x":-20,"y":0.935},{"p":4,"t":"-40°C","k":"V","x":-15,"y":0.825},{"p":4,"t":"-40°C","k":"V","x":-10,"y":0.705},{"p":4,"t":"-40°C","k":"V","x":-5,"y":0.6},{"p":4,"t":"-40°C","k":"V","x":-3,"y":0.58},{"p":4,"t":"-40°C","k":"V","x":0,"y":0.565},{"p":4,"t":"-40°C","k":"V","x":3,"y":0.56},{"p":4,"t":"-40°C","k":"V","x":6,"y":0.56},{"p":4,"t":"-40°C","k":"V","x":10,"y":0.57},{"p":4,"t":"-40°C","k":"V","x":13,"y":0.59},{"p":4,"t":"-40°C","k":"V","x":15,"y":0.63},
      {"p":4,"t":"+25°C","k":"V","x":-65,"y":1.99},{"p":4,"t":"+25°C","k":"V","x":-60,"y":1.92},{"p":4,"t":"+25°C","k":"V","x":-55,"y":1.81},{"p":4,"t":"+25°C","k":"V","x":-50,"y":1.68},{"p":4,"t":"+25°C","k":"V","x":-45,"y":1.55},{"p":4,"t":"+25°C","k":"V","x":-40,"y":1.41},{"p":4,"t":"+25°C","k":"V","x":-35,"y":1.29},{"p":4,"t":"+25°C","k":"V","x":-30,"y":1.16},{"p":4,"t":"+25°C","k":"V","x":-25,"y":1.05},{"p":4,"t":"+25°C","k":"V","x":-20,"y":0.94},{"p":4,"t":"+25°C","k":"V","x":-15,"y":0.83},{"p":4,"t":"+25°C","k":"V","x":-10,"y":0.71},{"p":4,"t":"+25°C","k":"V","x":-5,"y":0.6},{"p":4,"t":"+25°C","k":"V","x":-3,"y":0.55},{"p":4,"t":"+25°C","k":"V","x":0,"y":0.51},{"p":4,"t":"+25°C","k":"V","x":3,"y":0.5},{"p":4,"t":"+25°C","k":"V","x":6,"y":0.5},{"p":4,"t":"+25°C","k":"V","x":10,"y":0.5},{"p":4,"t":"+25°C","k":"V","x":13,"y":0.51},{"p":4,"t":"+25°C","k":"V","x":15,"y":0.52},
      {"p":4,"t":"+85°C","k":"E","x":-65,"y":-1.3},{"p":4,"t":"+85°C","k":"E","x":-62.6,"y":-0.18},{"p":4,"t":"+85°C","k":"E","x":-60.9,"y":0.37},{"p":4,"t":"+85°C","k":"E","x":-59.2,"y":0.86},{"p":4,"t":"+85°C","k":"E","x":-57.6,"y":1.35},{"p":4,"t":"+85°C","k":"E","x":-56.8,"y":1.44},{"p":4,"t":"+85°C","k":"E","x":-55.9,"y":1.39},{"p":4,"t":"+85°C","k":"E","x":-54.8,"y":1.21},{"p":4,"t":"+85°C","k":"E","x":-53.1,"y":1.07},{"p":4,"t":"+85°C","k":"E","x":-51.5,"y":0.9},{"p":4,"t":"+85°C","k":"E","x":-50.4,"y":0.72},{"p":4,"t":"+85°C","k":"E","x":-49.3,"y":0.55},{"p":4,"t":"+85°C","k":"E","x":-47.1,"y":0.44},{"p":4,"t":"+85°C","k":"E","x":-44.8,"y":0.39},{"p":4,"t":"+85°C","k":"E","x":-42.6,"y":0.41},{"p":4,"t":"+85°C","k":"E","x":-40,"y":0.46},{"p":4,"t":"+85°C","k":"E","x":-37.1,"y":0.41},{"p":4,"t":"+85°C","k":"E","x":-34.9,"y":0.51},{"p":4,"t":"+85°C","k":"E","x":-32.7,"y":0.58},{"p":4,"t":"+85°C","k":"E","x":-30,"y":0.6},{"p":4,"t":"+85°C","k":"E","x":-27.1,"y":0.57},{"p":4,"t":"+85°C","k":"E","x":-25,"y":0.65},{"p":4,"t":"+85°C","k":"E","x":-22.7,"y":0.6},{"p":4,"t":"+85°C","k":"E","x":-20,"y":0.53},{"p":4,"t":"+85°C","k":"E","x":-17.1,"y":0.3},{"p":4,"t":"+85°C","k":"E","x":-15,"y":0.27},{"p":4,"t":"+85°C","k":"E","x":-12.7,"y":0.09},{"p":4,"t":"+85°C","k":"E","x":-10.4,"y":-0.18},{"p":4,"t":"+85°C","k":"E","x":-8.2,"y":-0.46},{"p":4,"t":"+85°C","k":"E","x":-6.6,"y":-0.6},{"p":4,"t":"+85°C","k":"E","x":-4.9,"y":-0.64},{"p":4,"t":"+85°C","k":"E","x":-3.2,"y":-0.6},{"p":4,"t":"+85°C","k":"E","x":-1.6,"y":-0.46},{"p":4,"t":"+85°C","k":"E","x":0,"y":-0.12},{"p":4,"t":"+85°C","k":"E","x":1.6,"y":0.58},{"p":4,"t":"+85°C","k":"E","x":2.8,"y":1.21},{"p":4,"t":"+85°C","k":"E","x":3.7,"y":2.0},
      {"p":4,"t":"-40°C","k":"E","x":-65,"y":-1.97},{"p":4,"t":"-40°C","k":"E","x":-63.7,"y":-1.37},{"p":4,"t":"-40°C","k":"E","x":-62,"y":-1.09},{"p":4,"t":"-40°C","k":"E","x":-60.3,"y":-1.09},{"p":4,"t":"-40°C","k":"E","x":-58.7,"y":-0.92},{"p":4,"t":"-40°C","k":"E","x":-57,"y":-0.95},{"p":4,"t":"-40°C","k":"E","x":-55.4,"y":-0.88},{"p":4,"t":"-40°C","k":"E","x":-53.1,"y":-0.92},{"p":4,"t":"-40°C","k":"E","x":-51.5,"y":-0.95},{"p":4,"t":"-40°C","k":"E","x":-49.3,"y":-0.81},{"p":4,"t":"-40°C","k":"E","x":-47.1,"y":-0.71},{"p":4,"t":"-40°C","k":"E","x":-44.8,"y":-0.6},{"p":4,"t":"-40°C","k":"E","x":-42.1,"y":-0.5},{"p":4,"t":"-40°C","k":"E","x":-40,"y":-0.43},{"p":4,"t":"-40°C","k":"E","x":-37.7,"y":-0.46},{"p":4,"t":"-40°C","k":"E","x":-36,"y":-0.39},{"p":4,"t":"-40°C","k":"E","x":-33.8,"y":-0.25},{"p":4,"t":"-40°C","k":"E","x":-30,"y":-0.18},{"p":4,"t":"-40°C","k":"E","x":-27.1,"y":-0.13},{"p":4,"t":"-40°C","k":"E","x":-25,"y":0.02},{"p":4,"t":"-40°C","k":"E","x":-22.7,"y":-0.05},{"p":4,"t":"-40°C","k":"E","x":-20,"y":-0.08},{"p":4,"t":"-40°C","k":"E","x":-17.7,"y":-0.22},{"p":4,"t":"-40°C","k":"E","x":-15,"y":-0.36},{"p":4,"t":"-40°C","k":"E","x":-12.7,"y":-0.57},{"p":4,"t":"-40°C","k":"E","x":-10.4,"y":-0.71},{"p":4,"t":"-40°C","k":"E","x":-8.8,"y":-0.67},{"p":4,"t":"-40°C","k":"E","x":-7.1,"y":-0.46},{"p":4,"t":"-40°C","k":"E","x":-5.4,"y":0.02},{"p":4,"t":"-40°C","k":"E","x":-3.8,"y":0.72},{"p":4,"t":"-40°C","k":"E","x":-2.1,"y":1.49},{"p":4,"t":"-40°C","k":"E","x":-1.2,"y":2.0},
      {"p":4,"t":"+25°C","k":"E","x":-65,"y":-1.3},{"p":4,"t":"+25°C","k":"E","x":-62.6,"y":-0.32},{"p":4,"t":"+25°C","k":"E","x":-60.9,"y":0.09},{"p":4,"t":"+25°C","k":"E","x":-59.2,"y":0.2},{"p":4,"t":"+25°C","k":"E","x":-57.6,"y":0.3},{"p":4,"t":"+25°C","k":"E","x":-56.8,"y":0.41},{"p":4,"t":"+25°C","k":"E","x":-55.9,"y":0.34},{"p":4,"t":"+25°C","k":"E","x":-54.8,"y":0.16},{"p":4,"t":"+25°C","k":"E","x":-52.6,"y":0.02},{"p":4,"t":"+25°C","k":"E","x":-50.4,"y":-0.15},{"p":4,"t":"+25°C","k":"E","x":-48.2,"y":-0.15},{"p":4,"t":"+25°C","k":"E","x":-45,"y":-0.13},{"p":4,"t":"+25°C","k":"E","x":-42.6,"y":-0.06},{"p":4,"t":"+25°C","k":"E","x":-40,"y":0.04},{"p":4,"t":"+25°C","k":"E","x":-37.7,"y":0.06},{"p":4,"t":"+25°C","k":"E","x":-36,"y":-0.01},{"p":4,"t":"+25°C","k":"E","x":-33.8,"y":0.13},{"p":4,"t":"+25°C","k":"E","x":-30,"y":0.16},{"p":4,"t":"+25°C","k":"E","x":-27.1,"y":0.13},{"p":4,"t":"+25°C","k":"E","x":-25,"y":0.25},{"p":4,"t":"+25°C","k":"E","x":-22.7,"y":0.18},{"p":4,"t":"+25°C","k":"E","x":-20,"y":0.13},{"p":4,"t":"+25°C","k":"E","x":-17.7,"y":0.02},{"p":4,"t":"+25°C","k":"E","x":-15,"y":-0.08},{"p":4,"t":"+25°C","k":"E","x":-12.7,"y":-0.25},{"p":4,"t":"+25°C","k":"E","x":-10.4,"y":-0.46},{"p":4,"t":"+25°C","k":"E","x":-8.2,"y":-0.6},{"p":4,"t":"+25°C","k":"E","x":-6.2,"y":-0.67},{"p":4,"t":"+25°C","k":"E","x":-4.4,"y":-0.6},{"p":4,"t":"+25°C","k":"E","x":-2.7,"y":-0.25},{"p":4,"t":"+25°C","k":"E","x":-1.1,"y":0.37},{"p":4,"t":"+25°C","k":"E","x":0.6,"y":1.35},{"p":4,"t":"+25°C","k":"E","x":1.7,"y":2.0}
    ]
  },
  "data": {"name": "curves"},
  "resolve": {"scale": {"color": "independent"}},
  "spacing": 18,
  "vconcat": [
    {
      "width": 502, "height": 30,
      "view": {"stroke": null},
      "data": {"name": "legend"},
      "mark": {"type": "text", "font": "Noto Sans CJK SC", "fontSize": 15, "align": "center", "baseline": "middle"},
      "encoding": {
        "x": {"field": "label", "type": "nominal", "sort": null, "scale": {"type": "point", "padding": 0.157}, "axis": null},
        "text": {"field": "label"},
        "color": {"field": "label", "type": "nominal", "sort": null, "scale": {"domain": ["红线：+85°C", "黑线：+25°C", "蓝线：-40°C"], "range": ["#c8201e", "#000000", "#1c1c8c"]}, "legend": null}
      }
    },
    {
      "spacing": 29,
      "hconcat": [
        {
          "width": 237, "height": 190,
          "title": {"text": ["Figure 4. VOUT and Log Conformance vs. Input Amplitude at 900 MHz,", "Typical Device"], "orient": "bottom", "anchor": "middle", "frame": "group", "font": "Roboto", "fontSize": 9.5, "fontStyle": "italic", "fontWeight": "normal", "color": "#111", "offset": 8, "lineHeight": 15},
          "layer": [
            {"layer": [
              {"transform": [{"filter": "datum.p == 1 && datum.k == 'V' && datum.t != '+25°C'"}], "mark": {"type": "line", "strokeWidth": 3.5, "interpolate": "monotone", "clip": true},
               "encoding": {"x": {"field": "x", "type": "quantitative", "title": "PIN (dBm)", "scale": {"domain": [-65, 15], "nice": false}, "axis": {"values": [-65,-60,-55,-50,-45,-40,-35,-30,-25,-20,-15,-10,-5,0,5,10,15], "labelExpr": "(datum.value + 65) % 10 == 0 ? datum.label : ''", "labelOverlap": false, "labelFlush": false, "labelPadding": 3, "titlePadding": 4, "tickCount": 50}},
                            "y": {"field": "y", "type": "quantitative", "title": "VOUT (V)", "scale": {"domain": [0.2, 2.2], "nice": false, "zero": false}, "axis": {"values": [0.2,0.4,0.6,0.8,1.0,1.2,1.4,1.6,1.8,2.0,2.2], "format": ".1f", "labelFlush": false, "titlePadding": 5, "tickCount": 50}},
                            "color": {"field": "t", "type": "nominal", "scale": {"domain": ["+85°C", "+25°C", "-40°C"], "range": ["#d42a26", "#000000", "#3c6ad2"]}, "legend": null}}},
              {"transform": [{"filter": "datum.p == 1 && datum.k == 'V' && datum.t == '+25°C'"}], "mark": {"type": "line", "strokeWidth": 2.5, "interpolate": "monotone", "clip": true},
               "encoding": {"x": {"field": "x", "type": "quantitative", "title": "PIN (dBm)", "scale": {"domain": [-65, 15], "nice": false}},
                            "y": {"field": "y", "type": "quantitative", "title": "VOUT (V)", "scale": {"domain": [0.2, 2.2], "nice": false, "zero": false}},
                            "color": {"field": "t", "type": "nominal", "scale": {"domain": ["+85°C", "+25°C", "-40°C"], "range": ["#d42a26", "#000000", "#3c6ad2"]}, "legend": null}}},
              {"data": {"name": "codes"}, "transform": [{"filter": "datum.p == 1"}], "mark": {"type": "text", "angle": 270, "font": "Liberation Sans", "fontSize": 5.5, "fontWeight": "bold"},
               "encoding": {"x": {"datum": 26.5, "type": "quantitative", "title": "PIN (dBm)", "scale": {"domain": [-65, 15], "nice": false}}, "y": {"datum": 0.36, "type": "quantitative", "title": "VOUT (V)"}, "text": {"field": "code"}}}
            ]},
            {"transform": [{"filter": "datum.p == 1 && datum.k == 'E'"}], "mark": {"type": "line", "strokeWidth": 1.3, "clip": true},
             "encoding": {"x": {"field": "x", "type": "quantitative", "title": "PIN (dBm)", "scale": {"domain": [-65, 15], "nice": false}},
                          "y": {"field": "y", "type": "quantitative", "title": "ERROR (dB)", "scale": {"domain": [-2, 2], "nice": false, "zero": false}, "axis": {"orient": "right", "values": [-2,-1.6,-1.2,-0.8,-0.4,0,0.4,0.8,1.2,1.6,2], "labelExpr": "datum.value == 0 ? '0' : format(datum.value, '.1f')", "grid": false, "labelFlush": false, "titleAngle": 270, "titleBaseline": "top", "titlePadding": 4, "tickCount": 50}},
                          "color": {"field": "t", "type": "nominal", "scale": {"domain": ["+85°C", "+25°C", "-40°C"], "range": ["#d42a26", "#000000", "#3c6ad2"]}, "legend": null}}}
          ],
          "resolve": {"scale": {"y": "independent"}}
        },
        {
          "width": 237, "height": 190,
          "title": {"text": ["Figure 5. VOUT  and Log Conformance vs. Input Amplitude at 1.9 GHz,", "Typical Device"], "orient": "bottom", "anchor": "middle", "frame": "group", "font": "Roboto", "fontSize": 9.5, "fontStyle": "italic", "fontWeight": "normal", "color": "#111", "offset": 8, "lineHeight": 15},
          "layer": [
            {"layer": [
              {"transform": [{"filter": "datum.p == 2 && datum.k == 'V' && datum.t != '+25°C'"}], "mark": {"type": "line", "strokeWidth": 3.5, "interpolate": "monotone", "clip": true},
               "encoding": {"x": {"field": "x", "type": "quantitative", "title": "PIN (dBm)", "scale": {"domain": [-65, 15], "nice": false}, "axis": {"values": [-65,-60,-55,-50,-45,-40,-35,-30,-25,-20,-15,-10,-5,0,5,10,15], "labelExpr": "(datum.value + 65) % 10 == 0 ? datum.label : ''", "labelOverlap": false, "labelFlush": false, "labelPadding": 3, "titlePadding": 4, "tickCount": 50}},
                            "y": {"field": "y", "type": "quantitative", "title": "VOUT (V)", "scale": {"domain": [0.2, 2.2], "nice": false, "zero": false}, "axis": {"values": [0.2,0.4,0.6,0.8,1.0,1.2,1.4,1.6,1.8,2.0,2.2], "format": ".1f", "labelFlush": false, "titlePadding": 5, "tickCount": 50}},
                            "color": {"field": "t", "type": "nominal", "scale": {"domain": ["+85°C", "+25°C", "-40°C"], "range": ["#d42a26", "#000000", "#3c6ad2"]}, "legend": null}}},
              {"transform": [{"filter": "datum.p == 2 && datum.k == 'V' && datum.t == '+25°C'"}], "mark": {"type": "line", "strokeWidth": 2.5, "interpolate": "monotone", "clip": true},
               "encoding": {"x": {"field": "x", "type": "quantitative", "title": "PIN (dBm)", "scale": {"domain": [-65, 15], "nice": false}},
                            "y": {"field": "y", "type": "quantitative", "title": "VOUT (V)", "scale": {"domain": [0.2, 2.2], "nice": false, "zero": false}},
                            "color": {"field": "t", "type": "nominal", "scale": {"domain": ["+85°C", "+25°C", "-40°C"], "range": ["#d42a26", "#000000", "#3c6ad2"]}, "legend": null}}},
              {"data": {"name": "codes"}, "transform": [{"filter": "datum.p == 2"}], "mark": {"type": "text", "angle": 270, "font": "Liberation Sans", "fontSize": 5.5, "fontWeight": "bold"},
               "encoding": {"x": {"datum": 26.5, "type": "quantitative", "title": "PIN (dBm)", "scale": {"domain": [-65, 15], "nice": false}}, "y": {"datum": 0.36, "type": "quantitative", "title": "VOUT (V)"}, "text": {"field": "code"}}}
            ]},
            {"transform": [{"filter": "datum.p == 2 && datum.k == 'E'"}], "mark": {"type": "line", "strokeWidth": 1.3, "clip": true},
             "encoding": {"x": {"field": "x", "type": "quantitative", "title": "PIN (dBm)", "scale": {"domain": [-65, 15], "nice": false}},
                          "y": {"field": "y", "type": "quantitative", "title": "ERROR (dB)", "scale": {"domain": [-2, 2], "nice": false, "zero": false}, "axis": {"orient": "right", "values": [-2,-1.6,-1.2,-0.8,-0.4,0,0.4,0.8,1.2,1.6,2], "labelExpr": "datum.value == 0 ? '0' : format(datum.value, '.1f')", "grid": false, "labelFlush": false, "titleAngle": 270, "titleBaseline": "top", "titlePadding": 4, "tickCount": 50}},
                          "color": {"field": "t", "type": "nominal", "scale": {"domain": ["+85°C", "+25°C", "-40°C"], "range": ["#d42a26", "#000000", "#3c6ad2"]}, "legend": null}}}
          ],
          "resolve": {"scale": {"y": "independent"}}
        }
      ]
    },
    {
      "spacing": 34,
      "hconcat": [
        {
          "width": 237, "height": 190,
          "layer": [
            {"layer": [
              {"transform": [{"filter": "datum.p == 3 && datum.k == 'V' && datum.t != '+25°C'"}], "mark": {"type": "line", "strokeWidth": 3.5, "interpolate": "monotone", "clip": true},
               "encoding": {"x": {"field": "x", "type": "quantitative", "title": "PIN (dBm)", "scale": {"domain": [-65, 15], "nice": false}, "axis": {"values": [-65,-60,-55,-50,-45,-40,-35,-30,-25,-20,-15,-10,-5,0,5,10,15], "labelExpr": "(datum.value + 65) % 10 == 0 ? datum.label : ''", "labelOverlap": false, "labelFlush": false, "labelPadding": 3, "titlePadding": 4, "tickCount": 50}},
                            "y": {"field": "y", "type": "quantitative", "title": "VOUT (V)", "scale": {"domain": [0.2, 2.2], "nice": false, "zero": false}, "axis": {"values": [0.2,0.4,0.6,0.8,1.0,1.2,1.4,1.6,1.8,2.0,2.2], "format": ".1f", "labelFlush": false, "titlePadding": 15, "tickCount": 50}},
                            "color": {"field": "t", "type": "nominal", "scale": {"domain": ["+85°C", "+25°C", "-40°C"], "range": ["#d42a26", "#000000", "#3c6ad2"]}, "legend": null}}},
              {"transform": [{"filter": "datum.p == 3 && datum.k == 'V' && datum.t == '+25°C'"}], "mark": {"type": "line", "strokeWidth": 2.5, "interpolate": "monotone", "clip": true},
               "encoding": {"x": {"field": "x", "type": "quantitative", "title": "PIN (dBm)", "scale": {"domain": [-65, 15], "nice": false}},
                            "y": {"field": "y", "type": "quantitative", "title": "VOUT (V)", "scale": {"domain": [0.2, 2.2], "nice": false, "zero": false}},
                            "color": {"field": "t", "type": "nominal", "scale": {"domain": ["+85°C", "+25°C", "-40°C"], "range": ["#d42a26", "#000000", "#3c6ad2"]}, "legend": null}}},
              {"data": {"name": "codes"}, "transform": [{"filter": "datum.p == 3"}], "mark": {"type": "text", "angle": 270, "font": "Liberation Sans", "fontSize": 5.5, "fontWeight": "bold"},
               "encoding": {"x": {"datum": 26.5, "type": "quantitative", "title": "PIN (dBm)", "scale": {"domain": [-65, 15], "nice": false}}, "y": {"datum": 0.36, "type": "quantitative", "title": "VOUT (V)"}, "text": {"field": "code"}}}
            ]},
            {"transform": [{"filter": "datum.p == 3 && datum.k == 'E'"}], "mark": {"type": "line", "strokeWidth": 1.3, "clip": true},
             "encoding": {"x": {"field": "x", "type": "quantitative", "title": "PIN (dBm)", "scale": {"domain": [-65, 15], "nice": false}},
                          "y": {"field": "y", "type": "quantitative", "title": "ERROR (dB)", "scale": {"domain": [-2, 2], "nice": false, "zero": false}, "axis": {"orient": "right", "values": [-2,-1.6,-1.2,-0.8,-0.4,0,0.4,0.8,1.2,1.6,2], "labelExpr": "datum.value == 0 ? '0' : format(datum.value, '.1f')", "grid": false, "labelFlush": false, "titleAngle": 270, "titleBaseline": "top", "titlePadding": 4, "tickCount": 50}},
                          "color": {"field": "t", "type": "nominal", "scale": {"domain": ["+85°C", "+25°C", "-40°C"], "range": ["#d42a26", "#000000", "#3c6ad2"]}, "legend": null}}}
          ],
          "resolve": {"scale": {"y": "independent"}}
        },
        {
          "width": 237, "height": 190,
          "layer": [
            {"layer": [
              {"transform": [{"filter": "datum.p == 4 && datum.k == 'V' && datum.t != '+25°C'"}], "mark": {"type": "line", "strokeWidth": 3.5, "interpolate": "monotone", "clip": true},
               "encoding": {"x": {"field": "x", "type": "quantitative", "title": "PIN (dBm)", "scale": {"domain": [-65, 15], "nice": false}, "axis": {"values": [-65,-60,-55,-50,-45,-40,-35,-30,-25,-20,-15,-10,-5,0,5,10,15], "labelExpr": "(datum.value + 65) % 10 == 0 ? datum.label : ''", "labelOverlap": false, "labelFlush": false, "labelPadding": 3, "titlePadding": 4, "tickCount": 50}},
                            "y": {"field": "y", "type": "quantitative", "title": "VOUT (V)", "scale": {"domain": [0.2, 2.2], "nice": false, "zero": false}, "axis": {"values": [0.2,0.4,0.6,0.8,1.0,1.2,1.4,1.6,1.8,2.0,2.2], "format": ".1f", "labelFlush": false, "titlePadding": 5, "tickCount": 50}},
                            "color": {"field": "t", "type": "nominal", "scale": {"domain": ["+85°C", "+25°C", "-40°C"], "range": ["#d42a26", "#000000", "#3c6ad2"]}, "legend": null}}},
              {"transform": [{"filter": "datum.p == 4 && datum.k == 'V' && datum.t == '+25°C'"}], "mark": {"type": "line", "strokeWidth": 2.5, "interpolate": "monotone", "clip": true},
               "encoding": {"x": {"field": "x", "type": "quantitative", "title": "PIN (dBm)", "scale": {"domain": [-65, 15], "nice": false}},
                            "y": {"field": "y", "type": "quantitative", "title": "VOUT (V)", "scale": {"domain": [0.2, 2.2], "nice": false, "zero": false}},
                            "color": {"field": "t", "type": "nominal", "scale": {"domain": ["+85°C", "+25°C", "-40°C"], "range": ["#d42a26", "#000000", "#3c6ad2"]}, "legend": null}}},
              {"data": {"name": "codes"}, "transform": [{"filter": "datum.p == 4"}], "mark": {"type": "text", "angle": 270, "font": "Liberation Sans", "fontSize": 5.5, "fontWeight": "bold"},
               "encoding": {"x": {"datum": 26.5, "type": "quantitative", "title": "PIN (dBm)", "scale": {"domain": [-65, 15], "nice": false}}, "y": {"datum": 0.36, "type": "quantitative", "title": "VOUT (V)"}, "text": {"field": "code"}}}
            ]},
            {"transform": [{"filter": "datum.p == 4 && datum.k == 'E'"}], "mark": {"type": "line", "strokeWidth": 1.3, "clip": true},
             "encoding": {"x": {"field": "x", "type": "quantitative", "title": "PIN (dBm)", "scale": {"domain": [-65, 15], "nice": false}},
                          "y": {"field": "y", "type": "quantitative", "title": "ERROR (dB)", "scale": {"domain": [-2, 2], "nice": false, "zero": false}, "axis": {"orient": "right", "values": [-2,-1.6,-1.2,-0.8,-0.4,0,0.4,0.8,1.2,1.6,2], "labelExpr": "datum.value == 0 ? '0' : format(datum.value, '.1f')", "grid": false, "labelFlush": false, "titleAngle": 270, "titleBaseline": "top", "titlePadding": 4, "tickCount": 50}},
                          "color": {"field": "t", "type": "nominal", "scale": {"domain": ["+85°C", "+25°C", "-40°C"], "range": ["#d42a26", "#000000", "#3c6ad2"]}, "legend": null}}}
          ],
          "resolve": {"scale": {"y": "independent"}}
        }
      ]
    }
  ]
}
